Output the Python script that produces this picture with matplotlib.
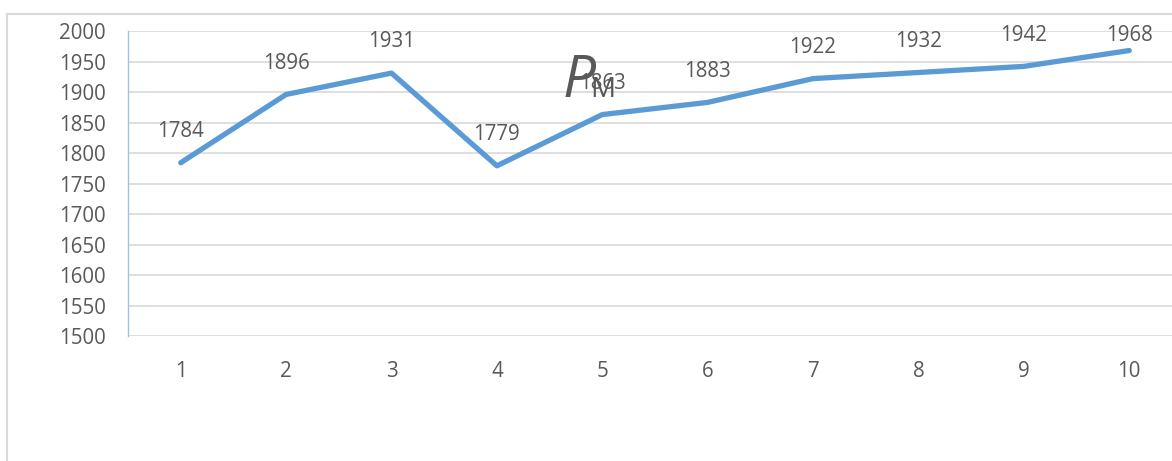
import matplotlib
matplotlib.use("Agg")
import matplotlib.pyplot as plt
from matplotlib.patches import Rectangle

# ----------------------------
# Data
# ----------------------------
categories = [1, 2, 3, 4, 5, 6, 7, 8, 9, 10]
values = [1784, 1896, 1931, 1779, 1863, 1883, 1922, 1932, 1942, 1968]
y_ticks = list(range(1500, 2001, 50))

TEXT = "#595959"
GRID = "#D9D9D9"
LINE = "#5B9BD5"
FS = 14.8

plt.rcParams['font.family'] = ['Open Sans', 'DejaVu Sans']

W, H = 1172, 461
fig = plt.figure(figsize=(W / 100, H / 100), dpi=100)

# outer chart border (runs off the right and bottom edges)
fig.patches.append(Rectangle((7 / W, -0.1), 1.2, 1 - 14 / H + 0.1,
                             transform=fig.transFigure, fill=False,
                             edgecolor=GRID, linewidth=1.5))

left, right = 128, 1172
top, bottom = 31, 336
ax = fig.add_axes([left / W, 1 - bottom / H, (right - left) / W, (bottom - top) / H])

step = 105.4
ax.set_xlim(0.5, 0.5 + (right - left) / step)
ax.set_ylim(1500, 2000)

ax.set_yticks(y_ticks)
ax.set_xticks(categories)
ax.set_xticklabels([str(c) for c in categories])
ax.tick_params(axis='both', length=0, labelsize=FS, labelcolor=TEXT)
ax.tick_params(axis='y', pad=16)
ax.tick_params(axis='x', pad=18)

ax.grid(axis='y', color=GRID, linewidth=1.2)
ax.set_axisbelow(True)
for side in ['top', 'right', 'bottom']:
    ax.spines[side].set_visible(False)
ax.spines['left'].set_color("#9DC3E6")
ax.spines['left'].set_linewidth(1.0)

ax.plot(categories, values, color=LINE, linewidth=3.8,
        solid_capstyle='round', solid_joinstyle='round', clip_on=False)

# data labels above points, kept inside the plot top
for x, v in zip(categories, values):
    ly = min(v + 51, 1993)
    ax.text(x, ly, str(v), ha='center', va='center', fontsize=FS, color=TEXT)

# stray equation object over the chart
fig.text(563 / W, 1 - 97 / H, "P", fontsize=42, style='italic', color=TEXT,
         ha='left', va='baseline')
fig.text(590 / W, 1 - 97 / H, "M", fontsize=20, color=TEXT,
         ha='left', va='baseline')

fig.savefig("out.png", dpi=100)
